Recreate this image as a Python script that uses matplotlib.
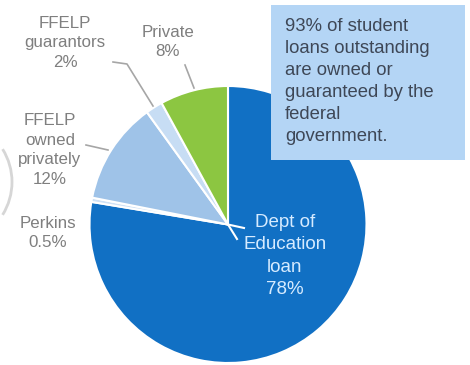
import matplotlib.pyplot as plt
from matplotlib.patches import Arc, Rectangle

plt.rcParams["font.family"] = ["Liberation Sans", "DejaVu Sans"]

# clockwise from 12 o'clock
names = ["Dept of\nEducation\nloan", "Perkins", "FFELP\nowned\nprivately",
         "FFELP\nguarantors", "Private"]
shares = [78, 0.5, 12, 2, 8]
colors = ["#1170c4", "#cfe1f5", "#9fc3e8", "#c7ddf4", "#8cc641"]

note = ("93% of student\nloans outstanding\nare owned or\n"
        "guaranteed by the\nfederal\ngovernment.")

W, H = 470, 365
CX, CY, R = 228, H - 224.5, 138.5


def label_text(i):
    return f"{names[i]}\n{shares[i]:g}%"


fig = plt.figure(figsize=(W / 100, H / 100), dpi=100)
ax = fig.add_axes([0, 0, 1, 1])

ax.pie(shares, colors=colors, startangle=90, counterclock=False,
       center=(CX, CY), radius=R, frame=True,
       wedgeprops=dict(edgecolor="white", linewidth=1.5))
ax.set_xlim(0, W)
ax.set_ylim(0, H)
ax.set_aspect("equal")
ax.axis("off")

# faint edge of a shape cut off on the left
ax.add_patch(Arc((-50, H - 182), 124, 124, theta1=-32, theta2=32,
                 color="#d6d6d6", lw=2))

# note box, top right
ax.add_patch(Rectangle((271, H - 160), 194, 155, facecolor="#b4d5f5",
                       edgecolor="none"))
ax.text(285, H - 18, note, ha="left", va="top", fontsize=13.3,
        color="#3e4756", linespacing=1.39)

gray = "#7f7f7f"
# outside labels
ax.text(65, H - 43, label_text(3), ha="center", va="center",
        fontsize=12.2, color=gray, linespacing=1.38)
ax.text(168, H - 42, label_text(4), ha="center", va="center",
        fontsize=12.2, color=gray, linespacing=1.38)
ax.text(50, H - 150, label_text(2), ha="center", va="center",
        fontsize=12.2, color=gray, linespacing=1.38)
ax.text(48, H - 233, label_text(1), ha="center", va="center",
        fontsize=12.2, color=gray, linespacing=1.38)

# leader lines
lc = "#a6a6a6"
ax.plot([113, 127, 153], [H - 62, H - 64, H - 106], color=lc, lw=1.2)
ax.plot([185, 194], [H - 65, H - 88], color=lc, lw=1.2)
ax.plot([86, 108], [H - 145, H - 150], color=lc, lw=1.2)

# inside label for the big slice
ax.plot([CX, 244], [CY, H - 228], color="white", lw=1.5)
ax.plot([CX, 237], [CY, H - 239], color="white", lw=1.5)
ax.text(285, H - 256, label_text(0), ha="center", va="center",
        fontsize=13.5, color="#d6ebff", linespacing=1.4)

fig.savefig("out.png", dpi=100)
